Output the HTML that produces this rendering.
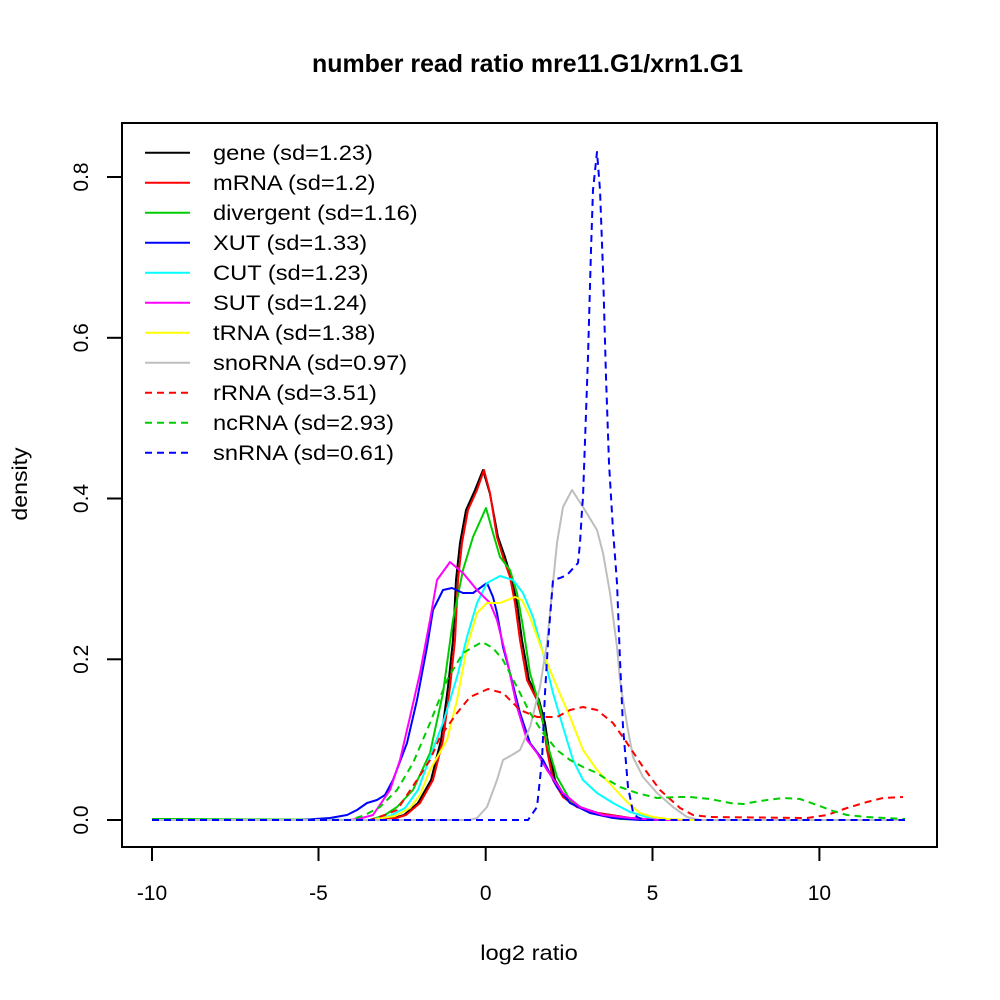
<!DOCTYPE html>
<html>
<head>
<meta charset="utf-8">
<style>
  html,body{margin:0;padding:0;background:#fff;}
  svg{display:block;}
  text{font-family:"Liberation Sans",Arial,sans-serif;fill:#000;}
</style>
</head>
<body>
<svg width="1000" height="1000" viewBox="0 0 1000 1000" xmlns="http://www.w3.org/2000/svg">
  <rect x="0" y="0" width="1000" height="1000" fill="#fff"/>

  <!-- Title -->
  <text x="312" y="72" font-size="25" font-weight="bold" textLength="431" lengthAdjust="spacingAndGlyphs">number read ratio mre11.G1/xrn1.G1</text>

  <!-- Plot box -->
  <rect x="122" y="123" width="815" height="724" fill="none" stroke="#000" stroke-width="2"/>

  <!-- X axis ticks -->
  <g stroke="#000" stroke-width="2">
    <line x1="152" y1="847" x2="152" y2="861"/>
    <line x1="318.5" y1="847" x2="318.5" y2="861"/>
    <line x1="485.7" y1="847" x2="485.7" y2="861"/>
    <line x1="652.5" y1="847" x2="652.5" y2="861"/>
    <line x1="819.4" y1="847" x2="819.4" y2="861"/>
  </g>
  <g font-size="21" text-anchor="middle">
    <text x="152" y="900">-10</text>
    <text x="318.5" y="900">-5</text>
    <text x="485.7" y="900">0</text>
    <text x="652.5" y="900">5</text>
    <text x="819.4" y="900">10</text>
  </g>
  <g transform="translate(529,960) scale(1.13,1)">
    <text x="0" y="0" font-size="21" text-anchor="middle">log2 ratio</text>
  </g>

  <!-- Y axis ticks -->
  <g stroke="#000" stroke-width="2">
    <line x1="107" y1="820" x2="122" y2="820"/>
    <line x1="107" y1="659.3" x2="122" y2="659.3"/>
    <line x1="107" y1="498.5" x2="122" y2="498.5"/>
    <line x1="107" y1="337.8" x2="122" y2="337.8"/>
    <line x1="107" y1="177" x2="122" y2="177"/>
  </g>
  <g font-size="21" text-anchor="middle">
    <text transform="translate(88,820) rotate(-90)">0.0</text>
    <text transform="translate(88,659.3) rotate(-90)">0.2</text>
    <text transform="translate(88,498.5) rotate(-90)">0.4</text>
    <text transform="translate(88,337.8) rotate(-90)">0.6</text>
    <text transform="translate(88,177) rotate(-90)">0.8</text>
  </g>
  <g transform="translate(27,484) rotate(-90) scale(1.1,1)">
    <text x="0" y="0" font-size="21" text-anchor="middle">density</text>
  </g>

  <!-- Curves -->
  <g fill="none" stroke-width="2" stroke-linejoin="round" stroke-linecap="butt">
    <!-- gene -->
    <path stroke="#000000" d="M152,820 L380,820 L394,818 L404,815 L418,803 L431,780 L441,740 L448,687 L453,640 L456,580 L460,543 L466,510 L475,490 L483,470 L490,494 L498,537 L505,557 L511,577 L517,603 L522,640 L529,680 L539,700 L545,723 L549,750 L555,780 L565,797 L579,807 L598,813 L630,818 L660,820 L905,820"/>
    <!-- mRNA -->
    <path stroke="#ff0000" d="M152,820 L382,820 L396,818 L406,815 L420,803 L433,780 L443,740 L450,687 L455,640 L458,580 L462,543 L468,510 L477,490 L484,470 L490,493 L497,537 L503,557 L510,577 L515,603 L520,640 L527,680 L537,700 L543,723 L547,750 L553,780 L563,797 L577,807 L597,813 L630,818 L660,820 L905,820"/>
    <!-- divergent -->
    <path stroke="#00cd00" d="M152,819 L165,819 L370,820 L385,815 L397,807 L413,790 L430,753 L443,693 L453,620 L463,570 L473,537 L486,508 L493,533 L500,557 L510,570 L517,593 L523,627 L530,673 L540,707 L547,743 L557,777 L570,800 L590,813 L620,819 L650,820 L905,820"/>
    <!-- XUT -->
    <path stroke="#0000ff" d="M152,820 L300,820 L330,818 L347,815 L357,810 L367,803 L377,800 L385,795 L393,780 L407,743 L417,700 L427,647 L433,610 L443,590 L452,588 L463,593 L473,593 L487,583 L493,597 L497,613 L503,647 L510,673 L520,713 L530,743 L543,760 L557,787 L570,803 L590,813 L613,818 L640,820 L905,820"/>
    <!-- CUT -->
    <path stroke="#00ffff" d="M152,820 L370,820 L390,816 L405,808 L418,790 L430,757 L443,723 L457,677 L467,637 L477,603 L487,583 L500,576 L513,580 L523,593 L533,617 L543,653 L553,693 L563,727 L573,760 L583,780 L597,793 L613,803 L630,812 L647,817 L670,820 L905,820"/>
    <!-- SUT -->
    <path stroke="#ff00ff" d="M152,820 L350,820 L362,818 L373,815 L390,790 L400,760 L410,717 L420,673 L430,620 L437,580 L450,562 L463,573 L477,590 L490,603 L497,620 L507,660 L517,707 L527,740 L537,753 L547,770 L563,793 L580,807 L603,815 L630,818 L660,820 L905,820"/>
    <!-- tRNA -->
    <path stroke="#ffff00" d="M152,820 L370,820 L395,816 L410,808 L420,795 L430,770 L447,740 L457,700 L467,647 L477,613 L487,603 L500,603 L515,597 L522,600 L530,617 L543,653 L557,687 L570,717 L583,750 L597,770 L613,787 L627,802 L640,813 L653,817 L667,819 L690,820 L905,820"/>
    <!-- snoRNA -->
    <path stroke="#bebebe" d="M152,820 L470,820 L477,818 L487,807 L497,780 L503,760 L512,755 L520,750 L530,727 L540,687 L547,643 L552,593 L557,543 L563,507 L572,490 L583,507 L597,530 L603,553 L610,593 L617,647 L620,680 L623,700 L628,730 L633,757 L643,777 L657,793 L673,807 L687,817 L700,820 L905,820"/>
    <!-- rRNA dashed -->
    <path stroke="#ff0000" stroke-dasharray="7,5" d="M152,820 L370,820 L385,815 L397,810 L417,780 L430,760 L440,737 L457,713 L470,697 L488,689 L503,693 L520,710 L537,717 L557,717 L570,710 L583,707 L597,710 L613,723 L627,743 L643,767 L660,790 L680,808 L693,815 L710,817 L807,818 L827,815 L847,808 L867,802 L883,798 L903,797"/>
    <!-- ncRNA dashed -->
    <path stroke="#00cd00" stroke-dasharray="7,5" d="M152,819 L350,820 L365,815 L380,807 L397,790 L413,763 L430,723 L447,680 L463,653 L482,642 L493,648 L503,660 L517,687 L530,713 L543,733 L557,750 L570,760 L583,767 L597,773 L603,777 L620,787 L637,793 L657,798 L677,797 L690,797 L710,799 L730,803 L743,804 L760,801 L783,798 L800,799 L817,805 L833,811 L847,815 L867,817 L905,819"/>
    <!-- snRNA dashed -->
    <path stroke="#0000ff" stroke-dasharray="7,5" d="M152,820 L528,820 L537,807 L542,760 L545,693 L548,643 L553,580 L560,578 L567,575 L578,563 L580,543 L582,510 L583,497 L586,413 L588,357 L591,250 L593,190 L597,152 L600,190 L603,270 L606,377 L609,463 L613,530 L617,583 L620,660 L623,727 L628,787 L633,812 L637,817 L645,820 L905,820"/>
  </g>

  <!-- Legend -->
  <g stroke-width="2" fill="none">
    <line x1="145" y1="152.7" x2="190" y2="152.7" stroke="#000000"/>
    <line x1="145" y1="182.7" x2="190" y2="182.7" stroke="#ff0000"/>
    <line x1="145" y1="212.7" x2="190" y2="212.7" stroke="#00cd00"/>
    <line x1="145" y1="242.7" x2="190" y2="242.7" stroke="#0000ff"/>
    <line x1="145" y1="272.7" x2="190" y2="272.7" stroke="#00ffff"/>
    <line x1="145" y1="302.7" x2="190" y2="302.7" stroke="#ff00ff"/>
    <line x1="145" y1="332.7" x2="190" y2="332.7" stroke="#ffff00"/>
    <line x1="145" y1="362.7" x2="190" y2="362.7" stroke="#bebebe"/>
    <line x1="145" y1="392.7" x2="190" y2="392.7" stroke="#ff0000" stroke-dasharray="7,5"/>
    <line x1="145" y1="422.7" x2="190" y2="422.7" stroke="#00cd00" stroke-dasharray="7,5"/>
    <line x1="145" y1="452.7" x2="190" y2="452.7" stroke="#0000ff" stroke-dasharray="7,5"/>
  </g>
  <g font-size="21">
    <text transform="translate(213,160) scale(1.128,1)">gene (sd=1.23)</text>
    <text transform="translate(213,190) scale(1.128,1)">mRNA (sd=1.2)</text>
    <text transform="translate(213,220) scale(1.128,1)">divergent (sd=1.16)</text>
    <text transform="translate(213,250) scale(1.128,1)">XUT (sd=1.33)</text>
    <text transform="translate(213,280) scale(1.128,1)">CUT (sd=1.23)</text>
    <text transform="translate(213,310) scale(1.128,1)">SUT (sd=1.24)</text>
    <text transform="translate(213,340) scale(1.128,1)">tRNA (sd=1.38)</text>
    <text transform="translate(213,370) scale(1.128,1)">snoRNA (sd=0.97)</text>
    <text transform="translate(213,400) scale(1.128,1)">rRNA (sd=3.51)</text>
    <text transform="translate(213,430) scale(1.128,1)">ncRNA (sd=2.93)</text>
    <text transform="translate(213,460) scale(1.128,1)">snRNA (sd=0.61)</text>
  </g>
</svg>
</body>
</html>
